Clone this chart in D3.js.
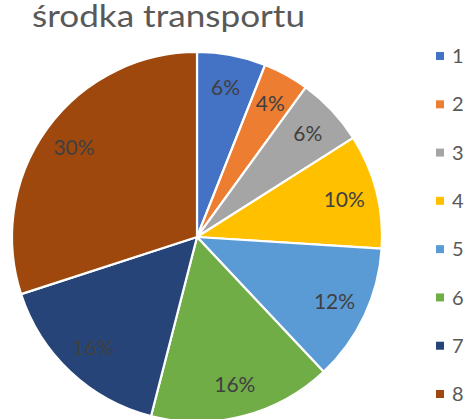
<!DOCTYPE html>
<html>
<head>
<meta charset="utf-8">
<script src="https://cdn.jsdelivr.net/npm/d3@7"></script>
<style>
  html, body { margin: 0; padding: 0; background: #ffffff; }
  svg { display: block; }
</style>
</head>
<body>
<svg id="chart" width="470" height="419"></svg>
<script>
// Chart data
const titleText = "środka transportu";
const categories = ["1", "2", "3", "4", "5", "6", "7", "8"];
const shares = [6, 4, 6, 10, 12, 16, 16, 30];
const palette = ["#4472C4", "#ED7D31", "#A5A5A5", "#FFC000", "#5B9BD5", "#70AD47", "#264478", "#9E480E"];

const svg = d3.select("#chart");

// Title (top-left)
svg.append("text")
  .attr("x", 32)
  .attr("y", 27)
  .attr("font-family", "Lato, 'Open Sans', sans-serif")
  .attr("font-size", 30)
  .attr("textLength", 273)
  .attr("lengthAdjust", "spacingAndGlyphs")
  .attr("fill", "#595959")
  .text(titleText);

// Pie
const cx = 197, cy = 237, R = 185;
const color = d3.scaleOrdinal().domain(categories).range(palette);
const pie = d3.pie().sort(null).value(d => d.v);
const data = categories.map((c, i) => ({ c, v: shares[i] }));
const arcs = pie(data);
const arc = d3.arc().innerRadius(0).outerRadius(R);
const labelArc = d3.arc().innerRadius(152).outerRadius(152);

const g = svg.append("g").attr("transform", `translate(${cx},${cy})`);
g.selectAll("path.slice")
  .data(arcs)
  .enter().append("path")
  .attr("class", "slice")
  .attr("d", arc)
  .attr("fill", d => color(d.data.c))
  .attr("stroke", "#ffffff")
  .attr("stroke-width", 2.2)
  .attr("stroke-linejoin", "round");

g.selectAll("text.lbl")
  .data(arcs)
  .enter().append("text")
  .attr("class", "lbl")
  .attr("transform", d => `translate(${labelArc.centroid(d)})`)
  .attr("text-anchor", "middle")
  .attr("dy", "0.36em")
  .attr("font-family", "Lato, 'Open Sans', sans-serif")
  .attr("font-size", 21)
  .attr("fill", "#404040")
  .text(d => d.data.v + "%");

// Legend
const legendY = d3.scalePoint().domain(categories).range([56, 394]);
const items = svg.append("g").selectAll("g.item")
  .data(categories)
  .enter().append("g")
  .attr("class", "item")
  .attr("transform", d => `translate(0,${legendY(d)})`);
items.append("rect")
  .attr("x", 436).attr("y", -4)
  .attr("width", 8).attr("height", 8)
  .attr("fill", d => color(d));
items.append("text")
  .attr("x", 452)
  .attr("y", 0)
  .attr("dy", "0.36em")
  .attr("font-family", "Lato, 'Open Sans', sans-serif")
  .attr("font-size", 20)
  .attr("fill", "#595959")
  .text(d => d);
</script>
</body>
</html>
